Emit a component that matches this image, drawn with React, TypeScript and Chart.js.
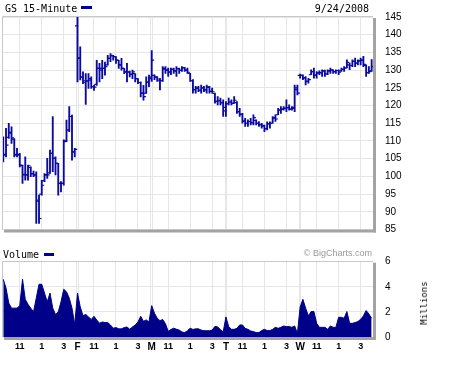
import { useEffect, useRef } from 'react';
import { Chart, registerables } from 'chart.js';
Chart.register(...registerables);

// ---- data ----
const dayLetters = ['', 'F', 'M', 'T', 'W'];
const hourLabels = ['11', '1', '3'];
const hourSlots = [6, 14, 22];
const slotsPerDay = 27;
const priceTickValues = [85, 90, 95, 100, 105, 110, 115, 120, 125, 130, 135, 140, 145];
const volumeTickValues = [0, 2, 4, 6];

const opens = [
  107.0,106.2,111.0,112.4,110.5,106.2,106.0,103.0,100.4,100.4,102.5,100.8,100.4,93.0,95.0,98.8,100.4,101.0,106.5,105.1,103.7,98.0,98.0,110.0,113.1,116.9,106.9,
  142.5,133.3,128.0,127.0,127.0,127.2,125.3,126.0,130.5,130.0,130.5,131.5,133.3,134.0,133.8,132.8,131.5,130.5,129.5,129.4,128.8,129.0,127.6,126.5,123.5,123.5,126.5,
  128.0,128.5,128.0,127.0,127.0,130.3,130.0,129.5,130.2,129.8,130.4,130.0,130.6,130.0,129.1,127.0,124.5,124.9,124.3,125.0,124.4,125.2,124.0,123.4,121.2,121.4,120.8,
  119.5,120.5,121.0,120.6,120.8,118.3,117.5,115.6,115.0,115.5,115.2,115.8,115.0,114.6,114.2,113.5,114.8,115.0,116.5,117.4,118.7,119.0,119.2,119.4,119.0,119.5,124.5,
  128.5,128.5,127.8,126.8,128.7,129.6,128.6,129.2,129.3,129.8,128.9,129.8,130.0,129.6,129.9,129.8,130.2,130.6,131.5,131.3,132.5,132.0,132.6,132.8,131.3,129.3,129.8,
];
const highs = [
  111.2,113.6,115.0,114.0,110.7,107.9,106.5,103.2,105.5,103.2,102.7,101.5,101.3,94.7,98.9,100.8,105.1,107.4,116.9,105.5,103.7,98.5,110.3,115.9,119.7,117.3,107.9,
  145.0,136.6,129.5,129.0,129.0,128.1,125.7,132.8,131.9,132.8,132.3,134.2,134.7,134.2,133.8,132.8,133.3,130.5,131.9,129.7,130.0,129.0,127.6,126.7,125.7,128.1,128.6,
  135.5,128.7,128.2,127.7,131.0,131.0,130.6,130.6,130.6,131.0,130.6,131.0,130.8,130.6,129.1,127.3,125.4,125.4,125.8,125.4,125.8,125.4,124.9,123.5,122.5,122.1,121.6,
  121.1,122.1,121.6,122.5,121.1,119.2,117.8,116.4,116.0,116.4,117.4,116.0,115.5,115.0,114.5,115.4,115.4,116.9,117.4,119.2,119.7,119.7,121.6,120.2,119.7,125.8,125.8,
  128.9,128.7,128.2,127.7,130.1,130.6,129.6,129.8,130.1,130.0,130.1,130.6,130.1,130.1,130.1,130.6,131.0,132.9,132.0,132.9,133.4,132.9,133.4,133.9,131.5,131.0,133.0,
];
const lows = [
  104.1,105.5,110.7,109.3,105.5,105.5,102.7,98.0,98.9,98.9,99.9,99.9,86.7,86.7,94.7,98.5,99.4,100.8,101.3,100.4,94.7,95.6,97.5,109.8,112.6,104.6,105.5,
  126.7,127.2,126.2,120.3,124.8,124.8,124.3,125.7,126.7,127.6,128.6,131.4,132.4,132.8,131.9,130.5,130.0,129.0,126.7,128.1,127.6,126.7,126.2,122.4,121.5,123.4,125.3,
  126.8,127.3,126.8,124.4,126.8,129.1,128.2,128.7,129.1,128.2,129.1,129.6,129.6,129.1,126.8,123.5,123.5,123.9,123.5,123.9,123.5,123.5,123.5,120.7,120.2,120.2,116.9,
  116.9,120.2,120.2,120.6,117.8,116.9,115.0,114.1,114.1,114.5,114.5,114.5,114.1,113.6,112.6,113.1,113.6,115.0,115.5,117.4,117.8,118.7,118.3,118.7,118.7,118.3,123.0,
  127.7,127.3,125.8,126.3,128.7,127.7,127.7,128.7,128.2,128.2,128.7,129.1,129.1,129.1,128.7,129.6,129.6,130.6,130.1,131.0,131.0,131.5,131.5,131.0,128.2,129.1,129.6,
];
const closes = [
  106.0,108.8,112.2,110.9,106.0,106.2,103.2,100.6,100.4,103.0,100.8,100.4,93.3,88.1,97.5,100.4,100.4,106.5,105.1,103.7,98.0,98.0,109.8,113.1,116.9,106.9,107.6,
  133.5,128.0,126.5,126.9,127.6,125.3,125.2,130.5,130.5,130.5,131.0,133.3,134.2,133.8,132.8,131.5,130.5,129.5,129.5,128.8,129.5,127.6,126.5,123.5,122.5,126.7,127.6,
  132.8,128.0,127.5,127.0,130.5,130.0,129.4,130.2,129.8,130.4,129.9,130.7,130.0,129.4,127.0,124.5,124.9,124.3,125.0,124.4,125.2,124.0,123.9,121.2,121.4,120.8,118.5,
  120.5,121.0,120.6,121.5,118.3,117.5,115.6,115.0,115.5,115.2,116.6,115.0,114.6,114.4,113.5,114.8,115.0,116.5,116.2,118.7,119.0,119.2,119.4,119.0,119.2,125.0,123.5,
  128.5,127.8,126.8,127.3,129.6,128.6,129.2,129.3,129.8,128.9,129.8,130.0,129.6,129.9,129.4,130.2,130.6,132.2,131.3,132.5,132.0,132.6,132.8,131.6,129.3,129.6,131.0,
];
// volume, millions of shares per 15-minute bar
const volumes = [
  4.6,3.9,2.7,2.3,2.3,2.3,2.5,4.6,3.0,2.6,2.3,2.0,3.1,4.2,4.2,3.5,2.8,3.5,2.3,1.8,2.0,2.8,3.8,3.6,3.1,2.3,1.0,
  3.5,2.4,1.7,1.8,1.6,1.4,1.65,1.35,1.1,1.2,1.15,1.15,0.95,0.7,0.75,0.65,0.65,0.75,0.8,0.62,0.8,0.95,1.2,1.65,1.25,1.36,1.2,
  2.5,1.9,1.5,1.3,1.4,1.05,0.45,0.6,0.7,0.62,0.55,0.4,0.35,0.5,0.7,0.6,0.65,0.65,0.55,0.5,0.5,0.5,0.55,0.85,0.8,0.6,0.4,
  1.6,0.83,0.61,0.61,0.69,0.96,0.96,0.69,0.61,0.48,0.43,0.35,0.35,0.51,0.61,0.51,0.51,0.61,0.77,0.69,0.77,0.88,0.83,0.83,0.77,0.88,0.29,
  2.4,3.0,2.3,1.68,2.03,2.03,1.09,0.77,0.77,0.77,0.61,0.88,0.77,0.77,1.57,1.57,1.49,2.03,1.09,1.09,1.15,1.23,1.41,1.68,2.11,1.84,1.49,
];

// ---- styles ----
const BAR = '#0a0a9e';
const VOL = '#000088';
const GRID = '#e6e6e6';
const FONT = '"Liberation Sans", Arial, sans-serif';
const MONO = '"DejaVu Sans Mono", monospace';

type XT = { value: number; label: string; grid: boolean; letter: boolean };
const xTicks: XT[] = [];
for (let d = 0; d < dayLetters.length; d++) {
  const base = d * slotsPerDay;
  if (d > 0) {
    xTicks.push({ value: base - 0.3, label: '', grid: true, letter: false });
    xTicks.push({ value: base, label: dayLetters[d], grid: false, letter: true });
    xTicks.push({ value: base + 0.3, label: '', grid: true, letter: false });
  }
  hourSlots.forEach((s, k) => xTicks.push({ value: base + s, label: hourLabels[k], grid: true, letter: false }));
}

const framePlugin = {
  id: 'frame',
  afterDraw(chart: any) {
    const { ctx, chartArea: a } = chart;
    ctx.save();
    ctx.fillStyle = '#a3a3a3';
    ctx.fillRect(a.left + 1, a.bottom, a.right - a.left + 2, 3);
    ctx.fillRect(a.right, a.top + 1, 3, a.bottom - a.top + 2);
    ctx.strokeStyle = '#c8c8c8';
    ctx.lineWidth = 1;
    ctx.beginPath();
    ctx.moveTo(Math.round(a.left) - 0.5, Math.round(a.bottom));
    ctx.lineTo(Math.round(a.left) - 0.5, Math.round(a.top) - 0.5);
    ctx.lineTo(Math.round(a.right), Math.round(a.top) - 0.5);
    ctx.stroke();
    ctx.restore();
  },
};

function xScale(showLabels: boolean, height: number) {
  return {
    type: 'linear',
    min: -0.1,
    max: 134.5,
    offset: false,
    afterBuildTicks: (s: any) => { s.ticks = xTicks.map((t) => ({ value: t.value })); },
    afterFit: (s: any) => { s.height = height; },
    grid: {
      offset: false,
      drawTicks: false,
      lineWidth: 1,
      color: (c: any) => (xTicks[c.index] && !xTicks[c.index].grid ? 'rgba(0,0,0,0)' : GRID),
    },
    border: { display: false },
    ticks: {
      display: showLabels,
      autoSkip: false,
      maxRotation: 0,
      minRotation: 0,
      padding: 4,
      color: '#000',
      font: (c: any) => ({ family: FONT, size: xTicks[c.index] && xTicks[c.index].letter ? 10 : 9, weight: 'bold' }),
      callback: (_v: any, i: number) => (xTicks[i] ? xTicks[i].label : ''),
    },
  };
}

function yScale(min: number, max: number, values: number[]) {
  return {
    type: 'linear',
    position: 'right',
    min,
    max,
    afterBuildTicks: (s: any) => { s.ticks = values.map((v) => ({ value: v })); },
    afterFit: (s: any) => { s.width = 79; },
    grid: { color: GRID, drawTicks: true, tickLength: 12, tickColor: 'rgba(0,0,0,0)', lineWidth: 1 },
    border: { display: false },
    ticks: { padding: 0, color: '#000', font: { family: FONT, size: 10 }, callback: (v: any) => String(v) },
  };
}

export default function App() {
  const priceRef = useRef<HTMLCanvasElement>(null);
  const volRef = useRef<HTMLCanvasElement>(null);

  useEffect(() => {
    const idx = highs.map((_, i) => i);
    const price = new Chart(priceRef.current as HTMLCanvasElement, {
      type: 'bar',
      data: {
        datasets: [
          {
            type: 'bar',
            data: idx.map((i) => ({ x: i, y: [lows[i], highs[i]] })) as any,
            backgroundColor: BAR,
            borderWidth: 0,
            barThickness: 1.2,
            grouped: false,
          } as any,
          {
            type: 'scatter',
            data: idx.map((i) => ({ x: i - 0.5, y: opens[i] })),
            pointStyle: 'line',
            pointRadius: 1.1,
            pointHoverRadius: 0,
            borderColor: BAR,
            borderWidth: 1.2,
          } as any,
          {
            type: 'scatter',
            data: idx.map((i) => ({ x: i + 0.5, y: closes[i] })),
            pointStyle: 'line',
            pointRadius: 1.1,
            pointHoverRadius: 0,
            borderColor: BAR,
            borderWidth: 1.2,
          } as any,
        ],
      },
      options: {
        responsive: false,
        animation: false,
        maintainAspectRatio: false,
        events: [],
        layout: { autoPadding: false, padding: { left: 3, top: 17, right: 0, bottom: 0 } },
        plugins: { legend: { display: false }, tooltip: { enabled: false } },
        scales: { x: xScale(false, 10.5) as any, y: yScale(85, 145, priceTickValues) as any },
      },
      plugins: [framePlugin],
    });

    const vol = new Chart(volRef.current as HTMLCanvasElement, {
      type: 'line',
      data: {
        datasets: [
          {
            data: idx.map((i) => ({ x: i, y: volumes[i] })),
            fill: 'origin',
            backgroundColor: VOL,
            borderColor: VOL,
            borderWidth: 1,
            pointRadius: 0,
            pointHoverRadius: 0,
            tension: 0,
          },
        ],
      },
      options: {
        responsive: false,
        animation: false,
        maintainAspectRatio: false,
        events: [],
        layout: { autoPadding: false, padding: { left: 3, top: 21.7, right: 0, bottom: 0 } },
        plugins: { legend: { display: false }, tooltip: { enabled: false } },
        scales: { x: xScale(true, 29) as any, y: yScale(0, 6, volumeTickValues) as any },
      },
      plugins: [framePlugin],
    });

    return () => {
      price.destroy();
      vol.destroy();
    };
  }, []);

  const txt = (extra: any) => ({ position: 'absolute' as const, whiteSpace: 'nowrap' as const, lineHeight: '12px', ...extra });

  return (
    <div style={{ position: 'fixed', left: 0, top: 0, width: 452, height: 366, background: '#fff', overflow: 'hidden' }}>
      <canvas ref={priceRef} width={452} height={240} style={{ position: 'absolute', left: 0, top: 0 }} />
      <canvas ref={volRef} width={452} height={126} style={{ position: 'absolute', left: 0, top: 240 }} />
      <div style={txt({ left: 5, top: 2.5, font: `10px ${MONO}`, color: '#000' })}>GS 15-Minute</div>
      <div style={{ position: 'absolute', left: 81, top: 6, width: 11, height: 3, background: VOL }} />
      <div style={txt({ right: 83, top: 2.5, font: `10px ${MONO}`, color: '#000' })}>9/24/2008</div>
      <div style={txt({ left: 3, top: 248.7, font: `10px ${MONO}`, color: '#000' })}>Volume</div>
      <div style={{ position: 'absolute', left: 44, top: 253, width: 10, height: 3, background: VOL }} />
      <div style={txt({ right: 80, top: 247.5, font: `9px ${FONT}`, color: '#999', lineHeight: '11px' })}>© BigCharts.com</div>
      <div
        style={txt({
          left: 423.5,
          top: 303,
          font: `9px ${MONO}`,
          color: '#000',
          transform: 'translate(-50%, -50%) rotate(-90deg)',
        })}
      >
        Millions
      </div>
    </div>
  );
}
